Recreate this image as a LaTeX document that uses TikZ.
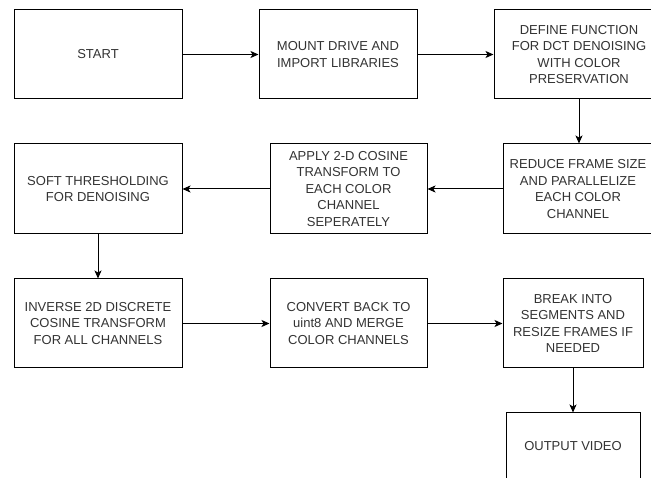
\documentclass[tikz,border=0pt]{standalone}
\usepackage{fontspec}
\setmainfont{Liberation Sans}
\usetikzlibrary{arrows.meta}
\definecolor{txt}{HTML}{333333}
\tikzset{
  stepbox/.style={draw=black, line width=1pt, fill=white, align=center,
    text=txt, font=\fontsize{13}{16.5}\selectfont, inner sep=0pt,
    minimum width=#1, minimum height=89pt},
  stepbox/.default=158pt,
  flow/.style={draw=black, line width=1pt, -{Stealth[length=8pt,width=7pt,inset=2pt]}}
}
\begin{document}
\begin{tikzpicture}[x=1pt,y=-1pt]
  \useasboundingbox (0,0) rectangle (651,478);
  \clip (0,0) rectangle (651,478);
  % first row
  \node[stepbox=168pt] (start) at (98,54.5) {START};
  \node[stepbox=158pt] (mount) at (338,54.5) {MOUNT DRIVE AND\\IMPORT LIBRARIES};
  \node[stepbox=170pt] (define) at (579,54.5) {DEFINE FUNCTION\\FOR DCT DENOISING\\WITH COLOR\\PRESERVATION};
  % second row
  \node[stepbox=150pt, minimum height=90pt] (reduce) at (578,189) {REDUCE FRAME SIZE\\AND PARALLELIZE\\EACH COLOR\\CHANNEL};
  \node[stepbox=157pt, minimum height=90pt] (apply) at (348.5,189) {APPLY 2-D COSINE\\TRANSFORM TO\\EACH COLOR\\CHANNEL\\SEPERATELY};
  \node[stepbox=168pt, minimum height=90pt] (soft) at (98,189) {SOFT THRESHOLDING\\FOR DENOISING};
  % third row
  \node[stepbox=168pt] (inverse) at (98,323.5) {INVERSE 2D DISCRETE\\COSINE TRANSFORM\\FOR ALL CHANNELS};
  \node[stepbox=157pt] (convert) at (348.5,323.5) {CONVERT BACK TO\\uint8 AND MERGE\\COLOR CHANNELS};
  \node[stepbox=140pt] (break) at (573,323.5) {BREAK INTO\\SEGMENTS AND\\RESIZE FRAMES IF\\NEEDED};
  % final step
  \node[stepbox=134pt, minimum height=66pt] (output) at (573,446) {OUTPUT VIDEO};
  % connectors
  \draw[flow] (start.east) -- (mount.west);
  \draw[flow] (mount.east) -- (define.west);
  \draw[flow] (define.south) -- (define.south |- reduce.north);
  \draw[flow] (reduce.west) -- (apply.east);
  \draw[flow] (apply.west) -- (soft.east);
  \draw[flow] (soft.south) -- (inverse.north);
  \draw[flow] (inverse.east) -- (convert.west);
  \draw[flow] (convert.east) -- (break.west);
  \draw[flow] (break.south) -- (output.north);
\end{tikzpicture}
\end{document}
